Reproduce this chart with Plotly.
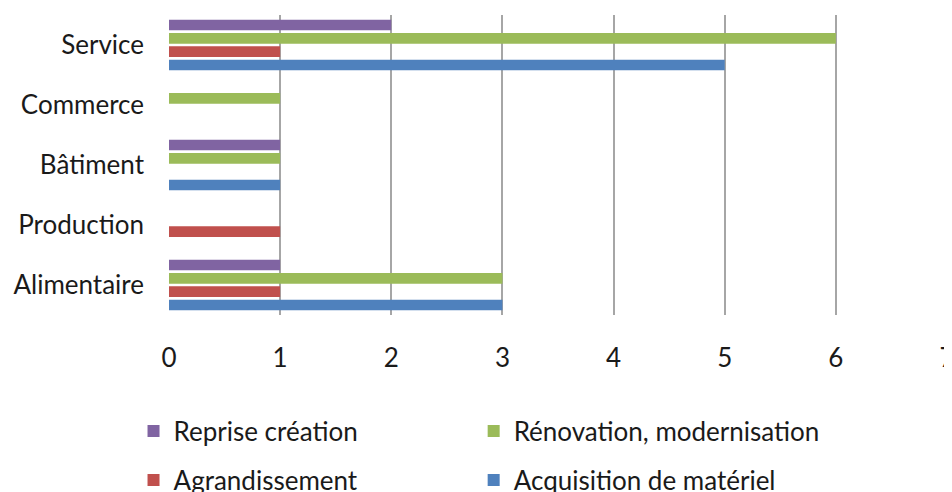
import plotly.graph_objects as go

categories = ["Alimentaire", "Production", "Bâtiment", "Commerce", "Service"]
acquisition = [3, 0, 1, 0, 5]
agrandissement = [1, 1, 0, 0, 1]
renovation = [3, 0, 1, 1, 6]
reprise = [1, 0, 1, 0, 2]

x_ticks = [0, 1, 2, 3, 4, 5, 6, 7]

FONT = "Lato"
FS = 26
# legend slot: (legend id, x paper, y paper)
series = [
    ("Acquisition de matériel", acquisition, "#4F81BD", "legend4", 0.3916, -0.55),
    ("Agrandissement", agrandissement, "#C0504D", "legend3", -0.0456, -0.55),
    ("Rénovation, modernisation", renovation, "#9BBB59", "legend2", 0.3916, -0.387),
    ("Reprise création", reprise, "#8064A2", "legend", -0.0456, -0.387),
]

fig = go.Figure()
legends = {}
for name, vals, color, leg, lx, ly in series:
    fig.add_trace(go.Bar(
        y=categories, x=vals, name=name, orientation="h",
        marker=dict(color=color, line=dict(width=0)),
        legend=leg, showlegend=True,
    ))
    legends[leg] = dict(
        x=lx, y=ly, xanchor="left", yanchor="middle",
        font=dict(family=FONT, size=FS, color="#1a1a1a"),
        bgcolor="rgba(0,0,0,0)",
    )

fig.update_layout(
    width=952, height=492,
    showlegend=True,
    margin=dict(l=161, r=13, t=7, b=185, autoexpand=False),
    paper_bgcolor="white", plot_bgcolor="white",
    barmode="group", bargap=0.11, bargroupgap=0.2,
    font=dict(family=FONT, size=FS, color="#1a1a1a"),
    xaxis=dict(
        range=[0, 7], tickvals=x_ticks, showgrid=True,
        gridcolor="#a6a6a6", gridwidth=1.5, zeroline=False,
        showline=False, ticks="", ticklabelstandoff=25, automargin=False,
        tickfont=dict(family=FONT, size=FS, color="#1a1a1a"),
    ),
    yaxis=dict(
        categoryorder="array", categoryarray=categories,
        showgrid=False, zeroline=False, showline=False, ticks="",
        ticklabelstandoff=24, automargin=False,
        tickfont=dict(family=FONT, size=FS, color="#1a1a1a"),
    ),
    **legends,
)

fig.write_html("out.html")
